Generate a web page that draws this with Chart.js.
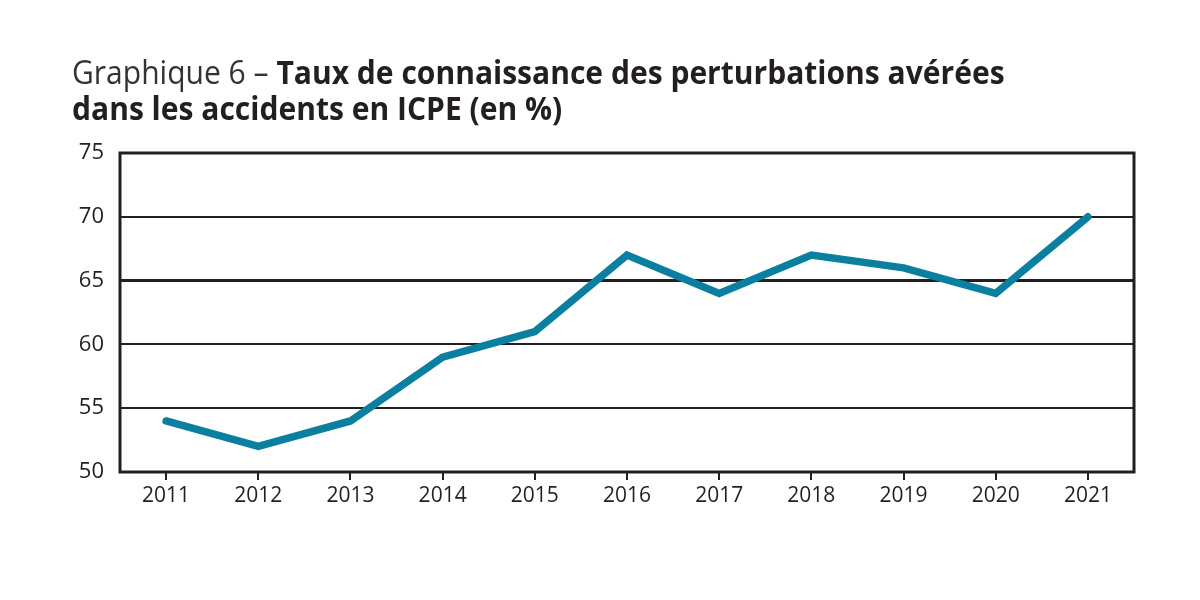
<!DOCTYPE html>
<html>
<head>
<meta charset="utf-8">
<script src="https://cdn.jsdelivr.net/npm/chart.js@4"></script>
<style>
  body { margin: 0; background: #fff; }
  #wrap { position: relative; width: 1200px; height: 600px; }
  #title {
    position: absolute; left: 72px; top: 54px;
    font-family: "Open Sans", sans-serif;
    font-size: 33px; line-height: 36px; color: #231f20;
    white-space: nowrap;
    transform: scaleX(0.91); transform-origin: left top;
  }
  #title .lead { font-weight: normal; color: #333; }
  #title b { font-weight: bold; }
  canvas { position: absolute; left: 0; top: 0; }
</style>
</head>
<body>
<div id="wrap">
  <canvas id="chart" width="1200" height="600"></canvas>
  <div id="title"><span class="lead">Graphique 6 – </span><b>Taux de connaissance des perturbations avérées<br>dans les accidents en ICPE (en %)</b></div>
</div>
<script>
var years = ['2011', '2012', '2013', '2014', '2015', '2016', '2017', '2018', '2019', '2020', '2021'];
var taux = [54, 52, 54, 59, 61, 67, 64, 67, 66, 64, 70];
var yTicks = [50, 55, 60, 65, 70, 75];

var frame = {
    id: 'frame',
    afterDatasetsDraw: function (chart) {
        var a = chart.chartArea;
        var ctx = chart.ctx;
        ctx.save();
        ctx.strokeStyle = '#231f20';
        ctx.lineWidth = 3;
        ctx.strokeRect(a.left, a.top, a.right - a.left, a.bottom - a.top);
        ctx.restore();
    }
};

var config = {
    type: 'line',
    data: {
        labels: years,
        datasets: [{
            data: taux,
            borderColor: '#0a7fa0',
            borderWidth: 7.5,
            borderCapStyle: 'round',
            borderJoinStyle: 'miter',
            pointRadius: 0,
            tension: 0,
            fill: false
        }]
    },
    options: {
        responsive: false,
        animation: false,
        layout: { padding: { left: 0, right: 66, top: 153, bottom: 78 } },
        plugins: { legend: { display: false }, title: { display: false }, tooltip: { enabled: false } },
        scales: {
            x: {
                offset: true,
                grid: {
                    offset: false,
                    drawOnChartArea: false,
                    drawTicks: true,
                    tickLength: 8,
                    color: '#231f20',
                    lineWidth: 2
                },
                border: { display: false },
                ticks: {
                    color: '#231f20',
                    font: { family: 'Open Sans', size: 21 },
                    padding: 3,
                    maxRotation: 0,
                    autoSkip: false
                },
                afterFit: function (s) { s.height = 50; }
            },
            y: {
                min: 50,
                max: 75,
                afterBuildTicks: function (s) {
                    s.ticks = yTicks.map(function (v) { return { value: v }; });
                },
                grid: {
                    drawTicks: false,
                    color: '#231f20',
                    lineWidth: function (c) { return c.tick && c.tick.value === 65 ? 3 : 2; }
                },
                border: { display: false },
                ticks: {
                    color: '#231f20',
                    font: { family: 'Open Sans', size: 22 },
                    padding: 16
                },
                afterFit: function (s) { s.width = 120; }
            }
        }
    },
    plugins: [frame]
};

var ctx = document.getElementById('chart').getContext('2d');
window.myLine = new Chart(ctx, config);
</script>
</body>
</html>
